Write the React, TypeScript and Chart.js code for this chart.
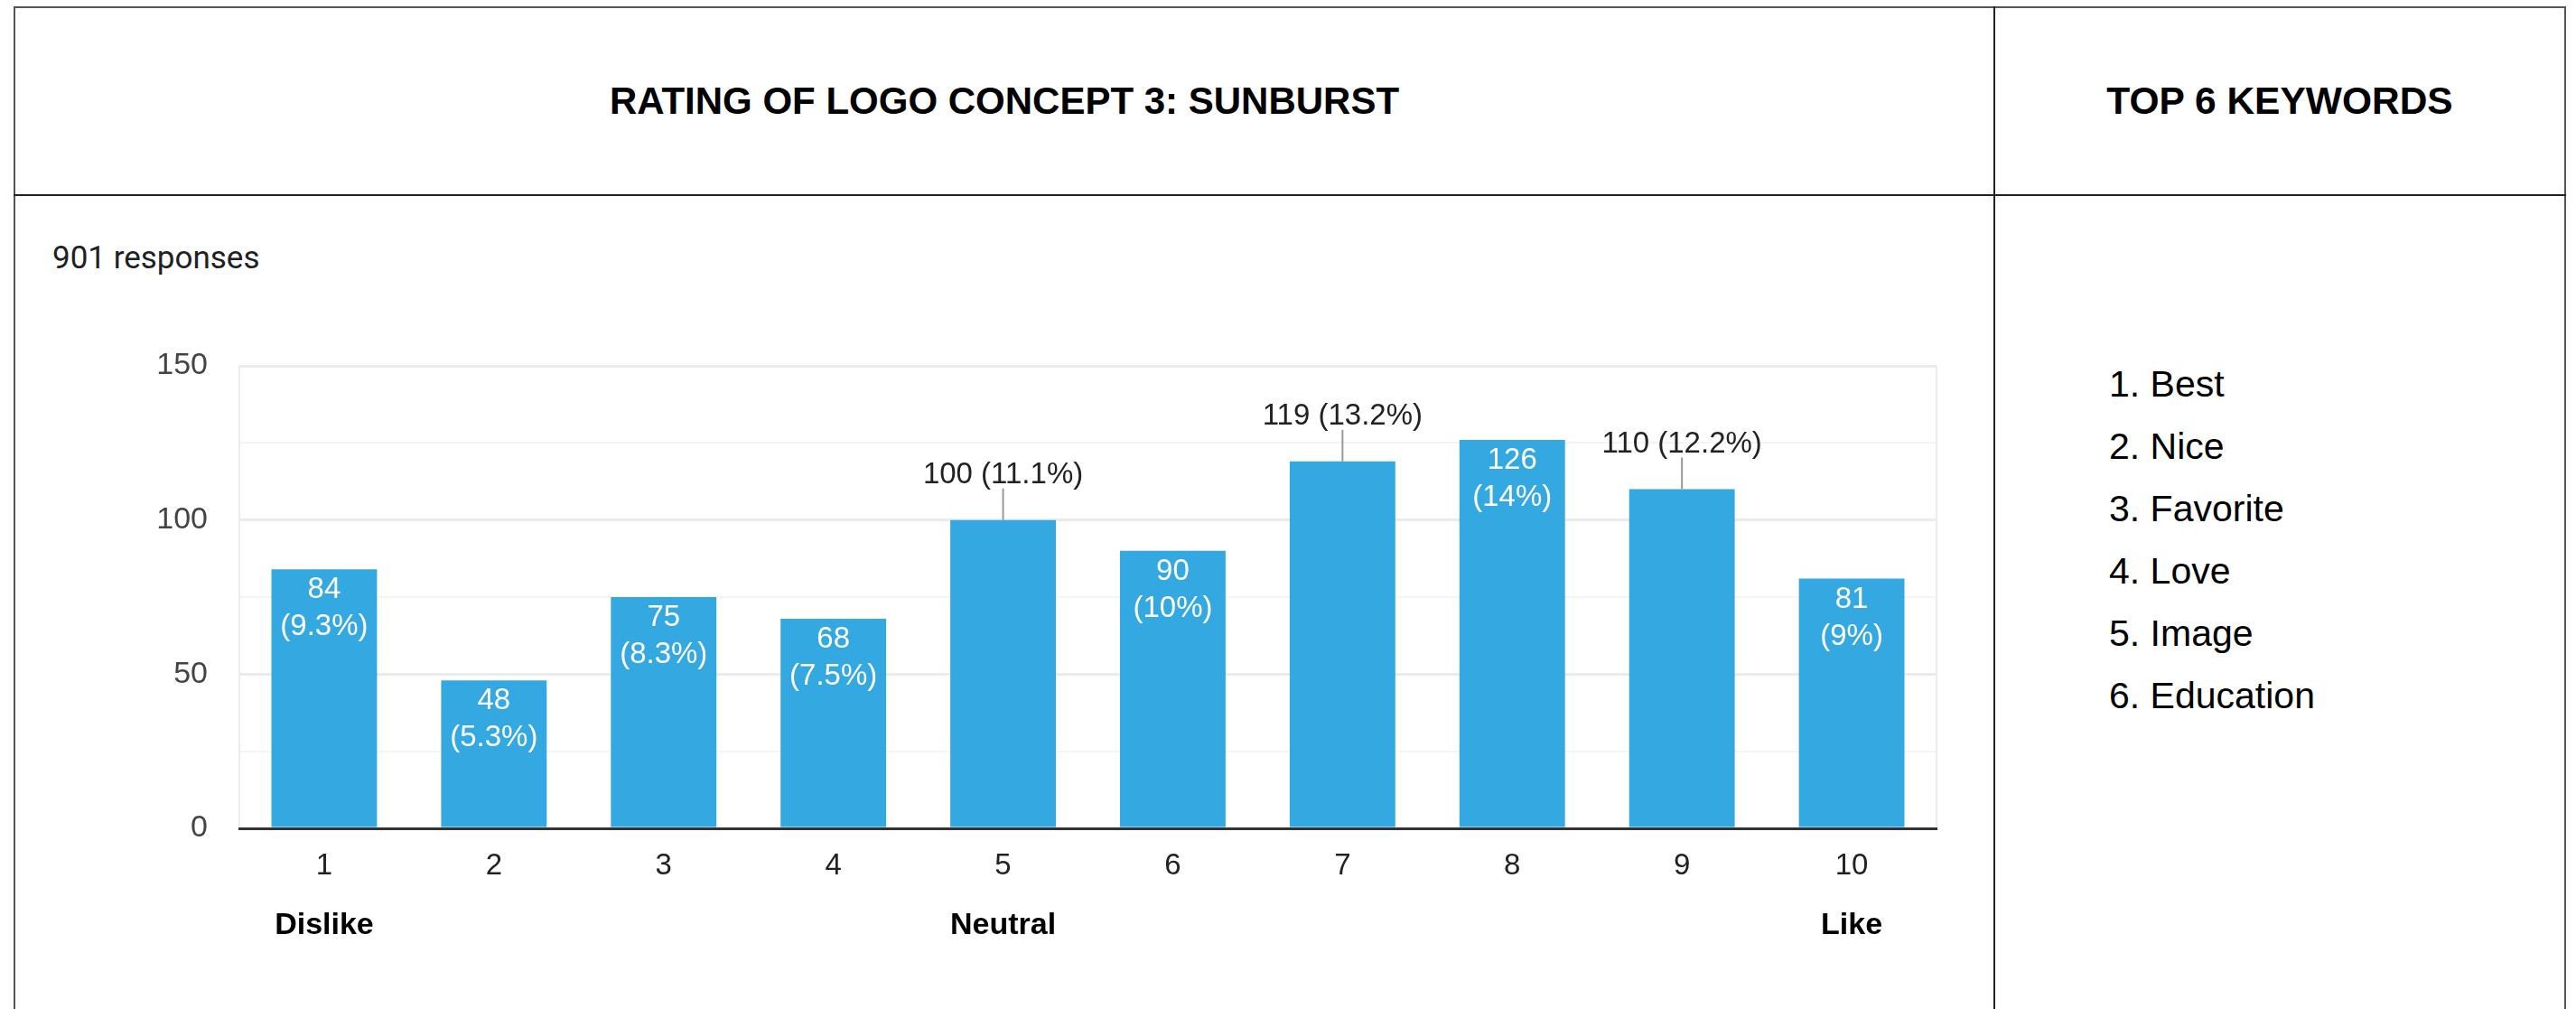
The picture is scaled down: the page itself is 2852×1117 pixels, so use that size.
import React, { useEffect, useRef } from 'react';
import { Chart, registerables } from 'chart.js';

Chart.register(...registerables);

const chartTitle = 'RATING OF LOGO CONCEPT 3: SUNBURST';
const sideTitle = 'TOP 6 KEYWORDS';
const responsesNote = '901 responses';
const ratingLabels = ['1', '2', '3', '4', '5', '6', '7', '8', '9', '10'];
const anchorLabels = ['Dislike', '', '', '', 'Neutral', '', '', '', '', 'Like'];
const responseCounts = [84, 48, 75, 68, 100, 90, 119, 126, 110, 81];
const responsePercents = ['9.3', '5.3', '8.3', '7.5', '11.1', '10', '13.2', '14', '12.2', '9'];
const keywords = ['Best', 'Nice', 'Favorite', 'Love', 'Image', 'Education'];
const yMax = 150;
const yStep = 25;
const yLabelEvery = 50;

const SANS = '"Liberation Sans", Arial, Helvetica, sans-serif';
const BAR_COLOR = 'rgb(52,168,224)';

export default function App() {
  const canvasRef = useRef<HTMLCanvasElement>(null);

  useEffect(() => {
    const canvas = canvasRef.current;
    if (!canvas) return;

    const labelPlugin = {
      id: 'barLabels',
      beforeDatasetsDraw(chart: any) {
        const { ctx, chartArea } = chart;
        ctx.save();
        ctx.strokeStyle = '#ececec';
        ctx.lineWidth = 2;
        ctx.beginPath();
        ctx.moveTo(chartArea.right, chartArea.top);
        ctx.lineTo(chartArea.right, chartArea.bottom);
        ctx.stroke();
        ctx.restore();
      },
      afterDatasetsDraw(chart: any) {
        const { ctx } = chart;
        const meta = chart.getDatasetMeta(0);
        ctx.save();
        ctx.font = `33px ${SANS}`;
        ctx.textAlign = 'center';
        ctx.textBaseline = 'middle';
        meta.data.forEach((bar: any, i: number) => {
          const { x, y, width } = bar.getProps(['x', 'y', 'width'], true);
          const v = responseCounts[i];
          const p = `(${responsePercents[i]}%)`;
          const w = ctx.measureText(p).width;
          if (w > width - 12) {
            ctx.fillStyle = '#222';
            ctx.fillText(`${v} ${p}`, x, y - 50);
            ctx.strokeStyle = '#999';
            ctx.lineWidth = 2;
            ctx.beginPath();
            ctx.moveTo(x, y - 35);
            ctx.lineTo(x, y);
            ctx.stroke();
          } else {
            ctx.fillStyle = '#ffffff';
            ctx.fillText(String(v), x, y + 23);
            ctx.fillText(p, x, y + 64);
          }
        });
        ctx.restore();
      },
    };

    const chart = new Chart(canvas, {
      type: 'bar',
      data: {
        labels: ratingLabels,
        datasets: [
          {
            data: responseCounts,
            backgroundColor: BAR_COLOR,
            borderWidth: 0,
            categoryPercentage: 1,
            barPercentage: 0.622,
          },
        ],
      },
      options: {
        responsive: false,
        maintainAspectRatio: false,
        devicePixelRatio: 1,
        animation: false,
        layout: { padding: { left: 0, right: 63, top: 188, bottom: 74 } },
        plugins: {
          legend: { display: false },
          tooltip: { enabled: false },
          title: { display: false },
        },
        scales: {
          x: {
            type: 'category',
            position: 'bottom',
            weight: 0,
            grid: { display: false, drawTicks: false },
            border: { display: true, color: '#333', width: 3, z: 1 },
            ticks: {
              font: { family: SANS, size: 33 },
              color: '#222',
              padding: 22,
              maxRotation: 0,
              autoSkip: false,
            },
            afterFit: (s: any) => {
              s.height = 60;
            },
          },
          x2: {
            type: 'category',
            position: 'bottom',
            weight: 1,
            labels: anchorLabels,
            offset: true,
            grid: { display: false, drawTicks: false },
            border: { display: false },
            ticks: {
              font: { family: SANS, size: 34, weight: 'bold' },
              color: '#000',
              padding: 27,
              maxRotation: 0,
              autoSkip: false,
            },
            afterFit: (s: any) => {
              s.height = 66;
            },
          },
          y: {
            min: 0,
            max: yMax,
            grid: {
              drawTicks: false,
              color: (c: any) =>
                c.tick && c.tick.value === 0
                  ? 'rgba(0,0,0,0)'
                  : c.tick && c.tick.value % yLabelEvery === 0
                  ? '#ebebeb'
                  : '#f4f4f4',
              lineWidth: (c: any) => (c.tick && c.tick.value % yLabelEvery === 0 ? 3 : 2),
            },
            border: { display: true, color: '#ececec', width: 2 },
            ticks: {
              stepSize: yStep,
              font: { family: SANS, size: 34 },
              color: '#444',
              padding: 35,
              callback: (v: any) => (Number(v) % yLabelEvery === 0 ? String(v) : ''),
            },
            afterFit: (s: any) => {
              s.width = 248;
            },
          },
        },
      },
      plugins: [labelPlugin],
    } as any);

    return () => chart.destroy();
  }, []);

  const line = (style: React.CSSProperties, color: string) => (
    <div style={{ position: 'absolute', background: color, ...style }} />
  );

  return (
    <div
      style={{
        position: 'fixed',
        left: 0,
        top: 0,
        width: 2852,
        height: 1117,
        overflow: 'hidden',
        background: '#fff',
        fontFamily: SANS,
      }}
    >
      {line({ left: 15, top: 7, width: 2826, height: 2 }, '#555')}
      {line({ left: 15, top: 7, width: 2, height: 1200 }, '#555')}
      {line({ left: 2839, top: 7, width: 2, height: 1200 }, '#555')}
      {line({ left: 15, top: 215, width: 2826, height: 2 }, '#222')}
      {line({ left: 2207, top: 7, width: 2, height: 1200 }, '#222')}

      <div
        style={{
          position: 'absolute',
          left: 17,
          top: 9,
          width: 2190,
          height: 206,
          display: 'flex',
          alignItems: 'center',
          justifyContent: 'center',
          fontWeight: 'bold',
          fontSize: 42,
          color: '#000',
        }}
      >
        {chartTitle}
      </div>
      <div
        style={{
          position: 'absolute',
          left: 2209,
          top: 9,
          width: 630,
          height: 206,
          display: 'flex',
          alignItems: 'center',
          justifyContent: 'center',
          fontWeight: 'bold',
          fontSize: 42.5,
          color: '#000',
        }}
      >
        {sideTitle}
      </div>

      <div
        style={{
          position: 'absolute',
          left: 58,
          top: 266,
          fontFamily: 'Roboto, "Noto Sans", sans-serif',
          fontSize: 35,
          lineHeight: '40px',
          color: '#202124',
          whiteSpace: 'nowrap',
        }}
      >
        {responsesNote}
      </div>

      <canvas
        ref={canvasRef}
        width={2190}
        height={900}
        style={{ position: 'absolute', left: 17, top: 217, width: 2190, height: 900, display: 'block' }}
      />

      <div style={{ position: 'absolute', left: 2335, top: 391 }}>
        {keywords.map((k, i) => (
          <div
            key={k}
            style={{ fontSize: 41, lineHeight: '69px', height: 69, color: '#000', whiteSpace: 'nowrap' }}
          >
            {`${i + 1}. ${k}`}
          </div>
        ))}
      </div>
    </div>
  );
}
